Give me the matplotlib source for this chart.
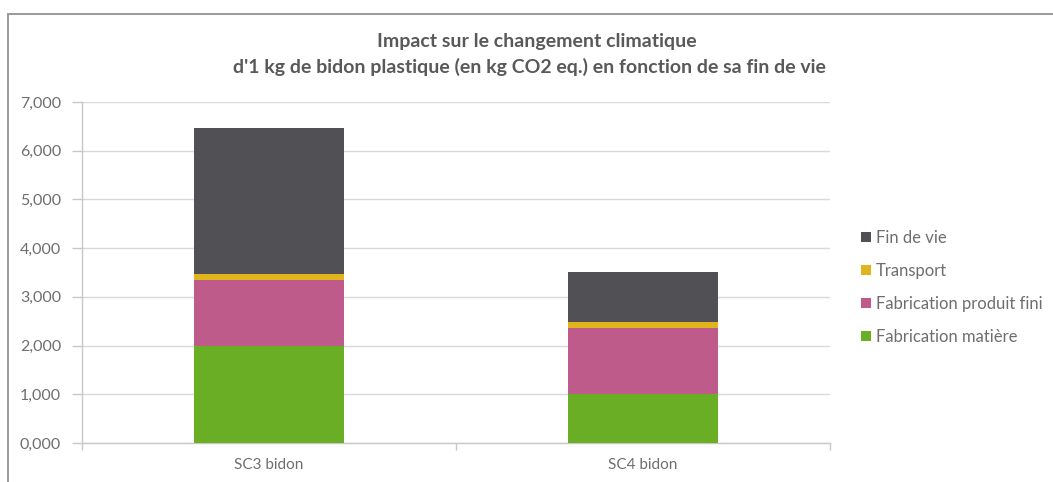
import matplotlib
matplotlib.use("Agg")
import matplotlib.pyplot as plt
from matplotlib.patches import Rectangle
import numpy as np

plt.rcParams['font.family'] = ['Lato', 'DejaVu Sans']

categories = ["SC3 bidon", "SC4 bidon"]
series_names = ["Fabrication matière", "Fabrication produit fini", "Transport", "Fin de vie"]
fabrication_matiere = [2.00, 1.00]
fabrication_produit_fini = [1.35, 1.36]
transport = [0.12, 0.12]
fin_de_vie = [3.00, 1.03]
y_ticks = [0, 1, 2, 3, 4, 5, 6, 7]

colors = ["#6AAE25", "#BF5B8A", "#E0B51C", "#505055"]
text_color = "#595959"
label_color = "#6E6E6E"

fig = plt.figure(figsize=(10.53, 4.82), dpi=100)
ax = fig.add_axes([0.0779, 0.0809, 0.7101, 0.7075])

# chart area frame (left and top edges visible)
fig.patches.append(Rectangle((8 / 1053, -0.2), 1.3, 1.2 - 14 / 482,
                             transform=fig.transFigure, fill=False,
                             edgecolor="#9A9A9A", linewidth=1.4, zorder=0))

x = np.arange(len(categories))
values = [fabrication_matiere, fabrication_produit_fini, transport, fin_de_vie]
bottom = np.zeros(len(categories))
handles = []
for name, vals, col in zip(series_names, values, colors):
    b = ax.bar(x, vals, width=0.40, bottom=bottom, color=col, label=name, zorder=3)
    handles.append(b)
    bottom += np.array(vals)

ax.set_xlim(-0.5, 1.5)
ax.set_ylim(0, 7)
ax.set_yticks(y_ticks)
ax.set_yticklabels([f"{v:.3f}".replace(".", ",") for v in y_ticks])
ax.set_xticks(x)
ax.set_xticklabels(categories)
ax.set_xticks([-0.5, 0.5, 1.5], minor=True)

ax.grid(axis="y", color="#D9D9D9", linewidth=1.0, zorder=0)
for side in ["top", "right"]:
    ax.spines[side].set_visible(False)
for side in ["left", "bottom"]:
    ax.spines[side].set_color("#C8C8C8")
    ax.spines[side].set_linewidth(1.0)

ax.tick_params(axis="y", length=7, width=1.0, color="#C8C8C8", pad=8,
               labelsize=11.5, labelcolor=label_color)
ax.tick_params(axis="x", which="major", length=0, pad=11,
               labelsize=11, labelcolor=label_color)
ax.tick_params(axis="x", which="minor", length=5, width=1.0, color="#C8C8C8")

fig.text(0.510, 1 - 42 / 482, "Impact sur le changement climatique",
         ha="center", va="center", fontsize=14, fontweight="bold", color=text_color)
fig.text(0.503, 1 - 67 / 482,
         "d'1 kg de bidon plastique (en kg CO2 eq.) en fonction de sa fin de vie",
         ha="center", va="center", fontsize=14, fontweight="bold", color=text_color)

leg = fig.legend(handles[::-1], series_names[::-1], loc="upper left",
                 bbox_to_anchor=(0.811, 1 - 223 / 482), frameon=False,
                 fontsize=12, handlelength=0.6, handleheight=0.6,
                 handletextpad=0.3, labelspacing=1.02, borderaxespad=0)
for t in leg.get_texts():
    t.set_color(label_color)

fig.savefig("out.png", dpi=100, facecolor="white")
